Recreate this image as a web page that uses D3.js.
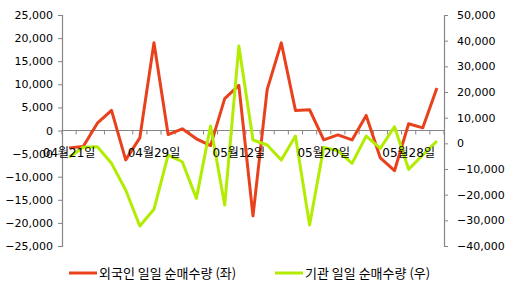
<!DOCTYPE html>
<html>
<head>
<meta charset="utf-8">
<script src="https://cdn.jsdelivr.net/npm/d3@7"></script>
<style>
    body { margin: 0; background: #fff; }
    text { font-family: "DejaVu Sans", "Noto Sans CJK KR", sans-serif; fill: #000; }
    .legend text { font-family: "Noto Sans CJK KR", sans-serif; }
</style>
</head>
<body>
<div id="chart"></div>
<script>
// trading days
const dates = ["04월21일", "04월22일", "04월23일", "04월24일", "04월25일", "04월28일",
    "04월29일", "04월30일", "05월02일", "05월07일", "05월08일", "05월09일",
    "05월12일", "05월13일", "05월14일", "05월15일", "05월16일", "05월19일",
    "05월20일", "05월21일", "05월22일", "05월23일", "05월26일", "05월27일",
    "05월28일", "05월29일", "05월30일"];

// 외국인 (left axis)
const foreignNet = [-3760, -3480, 1590, 4350, -6370, -1590, 18980, -870, 370, -1800,
    -3260, 6890, 9780, -18480, 8840, 18980, 4350, 4490, -2030, -940,
    -2030, 3260, -5940, -8700, 1450, 580, 9200];

// 기관 (right axis)
const instNet = [-5450, -1560, -1320, -7790, -18190, -32220, -25710, -4560, -7170, -21430,
    6740, -24040, 37910, 1290, -660, -6510, 2840, -31830, -1560, -2880,
    -7790, 2840, -1950, 6470, -10130, -4560, 900];

const leftTicks = [25000, 20000, 15000, 10000, 5000, 0, -5000, -10000, -15000, -20000, -25000];
const rightTicks = [50000, 40000, 30000, 20000, 10000, 0, -10000, -20000, -30000, -40000];
const labelEvery = 6;

const seriesNames = ["외국인 일일 순매수량 (좌)", "기관 일일 순매수량 (우)"];
const colors = ["#e8411c", "#b2ec00"];

const width = 508, height = 294;
const plot = {left: 62, right: 444, top: 15, bottom: 246};

let svg = d3.select("#chart").append("svg")
    .attr("width", width)
    .attr("height", height);

let x = d3.scaleBand()
    .domain(dates)
    .range([plot.left, plot.right]);

let yLeft = d3.scaleLinear()
    .domain([-25000, 25000])
    .range([plot.bottom, plot.top]);

let yRight = d3.scaleLinear()
    .domain([-40000, 50000])
    .range([plot.bottom, plot.top]);

let fmt = d3.format(",");

// left axis
let leftAxis = svg.append("g")
    .attr("transform", `translate(${plot.left},0)`)
    .call(d3.axisLeft(yLeft).tickValues(leftTicks).tickFormat(fmt).tickSizeOuter(0).tickSize(4).tickPadding(5));

// right axis
let rightAxis = svg.append("g")
    .attr("transform", `translate(${plot.right},0)`)
    .call(d3.axisRight(yRight).tickValues(rightTicks).tickFormat(fmt).tickSizeOuter(0).tickSize(4).tickPadding(9));

[leftAxis, rightAxis].forEach(g => {
    g.select(".domain").attr("stroke", "#868686").attr("stroke-width", 1.2);
    g.selectAll(".tick line").attr("stroke", "#868686");
    g.selectAll(".tick text").attr("font-size", 11).attr("font-family", "DejaVu Sans").attr("fill", "#000");
});

// category axis on left zero
let xAxisG = svg.append("g")
    .attr("transform", `translate(0,${yLeft(0)})`);

xAxisG.append("line")
    .attr("x1", plot.left).attr("x2", plot.right)
    .attr("stroke", "#868686").attr("stroke-width", 1.2);

xAxisG.selectAll(".ctick")
    .data(d3.range(dates.length + 1))
    .join("line")
    .attr("class", "ctick")
    .attr("x1", i => plot.left + i * x.step())
    .attr("x2", i => plot.left + i * x.step())
    .attr("y1", 0).attr("y2", 4)
    .attr("stroke", "#868686");

let lineLeft = d3.line()
    .x((d, i) => x(dates[i]) + x.bandwidth() / 2)
    .y(d => yLeft(d));

let lineRight = d3.line()
    .x((d, i) => x(dates[i]) + x.bandwidth() / 2)
    .y(d => yRight(d));

svg.append("path")
    .datum(foreignNet)
    .attr("fill", "none")
    .attr("stroke", colors[0])
    .attr("stroke-width", 3)
    .attr("stroke-linejoin", "round")
    .attr("d", lineLeft);

svg.append("path")
    .datum(instNet)
    .attr("fill", "none")
    .attr("stroke", colors[1])
    .attr("stroke-width", 3)
    .attr("stroke-linejoin", "round")
    .attr("d", lineRight);

// category labels drawn over the lines
svg.selectAll(".clabel")
    .data(dates.filter((d, i) => i % labelEvery === 0))
    .join("text")
    .attr("class", "clabel")
    .attr("x", d => x(d) + x.bandwidth() / 2)
    .attr("y", yLeft(0) + 26)
    .attr("text-anchor", "middle")
    .attr("font-size", 12)
    .text(d => d);

// legend
let legend = svg.append("g").attr("class", "legend");
let legendX = [69, 275];
seriesNames.forEach((name, i) => {
    legend.append("line")
        .attr("x1", legendX[i]).attr("x2", legendX[i] + 28)
        .attr("y1", 273).attr("y2", 273)
        .attr("stroke", colors[i])
        .attr("stroke-width", 3);
    legend.append("text")
        .attr("x", legendX[i] + 30)
        .attr("y", 278)
        .attr("font-size", 13)
        .text(name);
});
</script>
</body>
</html>
